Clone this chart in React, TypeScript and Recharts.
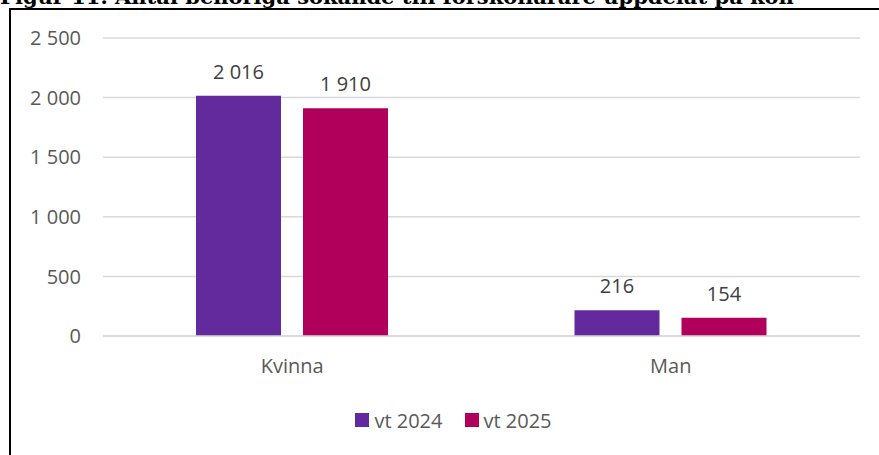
import React from "react";
import {
  BarChart,
  Bar,
  CartesianGrid,
  XAxis,
  YAxis,
  Legend,
  LabelList,
} from "recharts";

// Antal behöriga sökande per kön
const kategorier = ["Kvinna", "Man"];
const vt2024 = [2016, 216];
const vt2025 = [1910, 154];
const yTicks = [0, 500, 1000, 1500, 2000, 2500];

const data = kategorier.map((kon, i) => ({
  kon,
  vt2024: vt2024[i],
  vt2025: vt2025[i],
}));

const LILA = "#632A9E";
const ROSA = "#B0005C";
const FONT = "'Open Sans', 'Noto Sans', sans-serif";

function fmt(v: number): string {
  return String(v).replace(/\B(?=(\d{3})+(?!\d))/g, " ");
}

type LegendItem = { value?: string; color?: string };

function Forklaring({ payload }: { payload?: LegendItem[] }) {
  if (!payload) return null;
  return (
    <div
      style={{
        display: "flex",
        justifyContent: "center",
        gap: 22,
        height: 28,
        paddingLeft: 47,
        alignItems: "center",
        fontFamily: FONT,
        fontSize: 20,
        color: "#595959",
      }}
    >
      {payload.map((p) => (
        <span key={p.value} style={{ display: "flex", alignItems: "center" }}>
          <span
            style={{
              width: 14,
              height: 14,
              background: p.color,
              display: "inline-block",
              marginRight: 5,
            }}
          />
          {p.value}
        </span>
      ))}
    </div>
  );
}

export default function App() {
  return (
    <div
      style={{
        position: "absolute",
        left: 0,
        top: 0,
        width: 879,
        height: 455,
        overflow: "hidden",
        background: "#fff",
      }}
    >
      <div
        style={{
          position: "absolute",
          left: 0,
          top: -14,
          whiteSpace: "nowrap",
          fontFamily: "'DejaVu Serif', serif",
          fontWeight: "bold",
          fontSize: 21,
          lineHeight: "21px",
          color: "#000",
        }}
      >
        Figur 11. Antal behöriga sökande till förskollärare uppdelat på kön
      </div>
      <div
        style={{
          position: "absolute",
          left: 9,
          top: 8,
          width: 900,
          height: 460,
          borderLeft: "2px solid #000",
          borderTop: "2px solid #000",
        }}
      />
      <div style={{ position: "absolute", left: 0, top: 0 }}>
        <BarChart
          width={879}
          height={455}
          data={data}
          margin={{ top: 38, right: 19, left: 0, bottom: 21 }}
          barGap={22}
          barSize={85}
        >
          <CartesianGrid vertical={false} stroke="#d9d9d9" strokeWidth={1.5} />
          <XAxis
            dataKey="kon"
            height={70}
            axisLine={{ stroke: "#d9d9d9", strokeWidth: 1.5 }}
            tickLine={false}
            tickSize={0}
            tickMargin={23}
            tick={{ fill: "#595959", fontSize: 20, fontFamily: FONT }}
          />
          <YAxis
            width={103}
            domain={[0, 2500]}
            ticks={yTicks}
            axisLine={false}
            tickLine={false}
            tickSize={0}
            tickMargin={22}
            tickFormatter={fmt}
            tick={{ fill: "#595959", fontSize: 20, fontFamily: FONT }}
          />
          <Legend verticalAlign="bottom" content={(p: any) => <Forklaring payload={p.payload} />} />
          <Bar dataKey="vt2024" name="vt 2024" fill={LILA} isAnimationActive={false}>
            <LabelList
              dataKey="vt2024"
              position="top"
              offset={17}
              formatter={(v: any) => fmt(Number(v))}
              style={{ fill: "#404040", fontSize: 20, fontFamily: FONT }}
            />
          </Bar>
          <Bar dataKey="vt2025" name="vt 2025" fill={ROSA} isAnimationActive={false}>
            <LabelList
              dataKey="vt2025"
              position="top"
              offset={17}
              formatter={(v: any) => fmt(Number(v))}
              style={{ fill: "#404040", fontSize: 20, fontFamily: FONT }}
            />
          </Bar>
        </BarChart>
      </div>
    </div>
  );
}
